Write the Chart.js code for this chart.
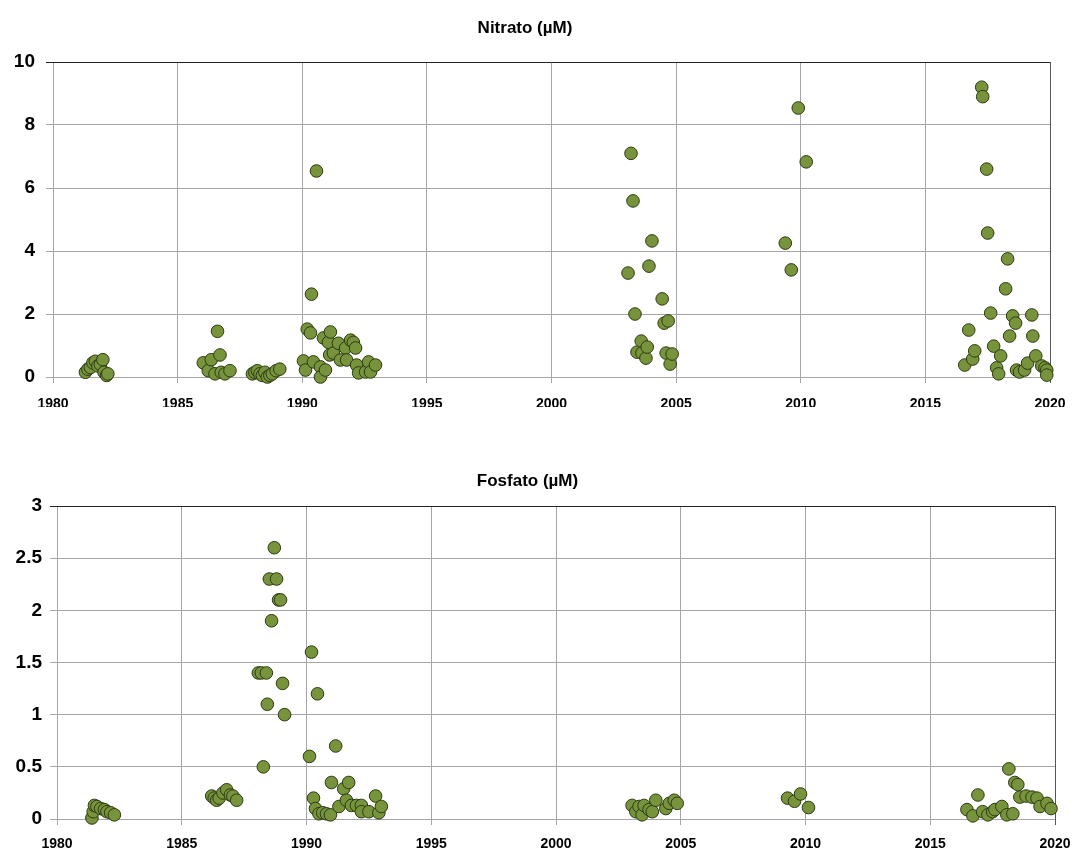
<!DOCTYPE html>
<html>
<head>
<meta charset="utf-8">
<script src="https://cdn.jsdelivr.net/npm/chart.js@4.4.1/dist/chart.umd.min.js"></script>
<style>
    body { margin: 0; background: #fff; }
    .box { position: absolute; left: 0; width: 1074px; }
    #boxN { top: 0; height: 420px; }
    #boxF { top: 440px; height: 414px; }
</style>
</head>
<body>
<div class="box" id="boxN"><canvas id="nitratoChart"></canvas></div>
<div class="box" id="boxF"><canvas id="fosfatoChart"></canvas></div>
<script>
// Data
const nitratoYears = [
    1981.3, 1981.4, 1981.5, 1981.6, 1981.7, 1981.8, 1981.9, 1982.0, 1982.05, 1982.15, 1982.2,
    1986.03, 1986.23, 1986.35, 1986.5, 1986.6, 1986.7, 1986.75, 1986.9, 1987.1,
    1988.0, 1988.1, 1988.2, 1988.3, 1988.4, 1988.5, 1988.6, 1988.7, 1988.8, 1988.95, 1989.1,
    1990.05, 1990.13, 1990.2, 1990.33, 1990.37, 1990.45, 1990.57, 1990.73, 1990.73, 1990.85, 1990.93,
    1991.05, 1991.1, 1991.13, 1991.25, 1991.45, 1991.53, 1991.74, 1991.78, 1991.94, 1992.05, 1992.14,
    1992.18, 1992.26, 1992.54, 1992.66, 1992.74, 1992.94,
    2003.07, 2003.19, 2003.27, 2003.35, 2003.43, 2003.6, 2003.63, 2003.79, 2003.84, 2003.91, 2004.03,
    2004.44, 2004.52, 2004.6, 2004.68, 2004.76, 2004.84,
    2009.38, 2009.62, 2009.9, 2010.22,
    2016.58, 2016.74, 2016.9, 2016.98, 2017.26, 2017.3, 2017.46, 2017.5, 2017.62, 2017.74, 2017.86,
    2017.94, 2018.02, 2018.22, 2018.3, 2018.38, 2018.5, 2018.62, 2018.66, 2018.78, 2018.98, 2019.1,
    2019.27, 2019.31, 2019.43, 2019.67, 2019.8, 2019.87, 2019.87
];
const nitratoValues = [
    0.15, 0.25, 0.3, 0.45, 0.5, 0.35, 0.4, 0.55, 0.15, 0.05, 0.1,
    0.45, 0.2, 0.55, 0.1, 1.45, 0.7, 0.15, 0.1, 0.2,
    0.1, 0.15, 0.2, 0.1, 0.05, 0.15, 0.0, 0.05, 0.1, 0.2, 0.25,
    0.51, 0.22, 1.52, 1.4, 2.63, 0.48, 6.54, 0.32, 0.0, 1.24, 0.22,
    1.1, 0.7, 1.43, 0.76, 1.07, 0.54, 0.92, 0.54, 1.17, 1.1, 0.92,
    0.38, 0.13, 0.16, 0.48, 0.16, 0.38,
    3.3, 7.1, 5.59, 2.0, 0.79, 1.14, 0.76, 0.6, 0.95, 3.52, 4.32,
    2.48, 1.71, 0.76, 1.78, 0.41, 0.73,
    4.25, 3.4, 8.54, 6.83,
    0.38, 1.49, 0.57, 0.83, 9.2, 8.9, 6.6, 4.57, 2.03, 0.98, 0.29,
    0.1, 0.67, 2.8, 3.75, 1.3, 1.94, 1.71, 0.22, 0.16, 0.22, 0.44,
    1.97, 1.3, 0.67, 0.35, 0.29, 0.22, 0.06
];

const fosfatoYears = [
    1981.4, 1981.45, 1981.5, 1981.6, 1981.75, 1981.9, 1982.0, 1982.15, 1982.3,
    1986.2, 1986.3, 1986.4, 1986.5, 1986.65, 1986.8, 1986.95, 1987.05, 1987.2,
    1988.07, 1988.19, 1988.27, 1988.39, 1988.43, 1988.51, 1988.6, 1988.71, 1988.8, 1988.88, 1988.96, 1989.04, 1989.12,
    1990.12, 1990.2, 1990.28, 1990.36, 1990.44, 1990.5, 1990.65, 1990.8, 1990.96, 1991.0, 1991.17, 1991.3,
    1991.49, 1991.6, 1991.69, 1991.8, 1992.0, 1992.2, 1992.2, 1992.5, 1992.77, 1992.9, 1993.0,
    2003.05, 2003.2, 2003.33, 2003.45, 2003.53, 2003.73, 2003.86, 2004.0, 2004.4, 2004.54, 2004.74, 2004.86,
    2009.28, 2009.56, 2009.8, 2010.12,
    2016.47, 2016.71, 2016.91, 2017.1, 2017.31, 2017.5, 2017.59, 2017.87, 2018.07, 2018.15, 2018.31,
    2018.39, 2018.51, 2018.59, 2018.84, 2019.08, 2019.28, 2019.4, 2019.68, 2019.84
];
const fosfatoValues = [
    0.01, 0.07, 0.13, 0.12, 0.1, 0.09, 0.07, 0.06, 0.04,
    0.22, 0.2, 0.18, 0.2, 0.25, 0.28, 0.23, 0.22, 0.18,
    1.4, 1.4, 0.5, 1.4, 1.1, 2.3, 1.9, 2.6, 2.3, 2.1, 2.1, 1.3, 1.0,
    0.6, 1.6, 0.2, 0.1, 1.2, 0.05, 0.06, 0.05, 0.04, 0.35, 0.7, 0.12,
    0.29, 0.18, 0.35, 0.13, 0.13, 0.13, 0.07, 0.07, 0.22, 0.06, 0.12,
    0.13, 0.07, 0.12, 0.04, 0.13, 0.09, 0.07, 0.18, 0.1, 0.15, 0.18, 0.15,
    0.2, 0.17, 0.24, 0.11,
    0.09, 0.03, 0.23, 0.07, 0.04, 0.07, 0.09, 0.12, 0.04, 0.48, 0.05,
    0.35, 0.33, 0.21, 0.22, 0.21, 0.2, 0.12, 0.15, 0.1
];

const yearTicks = [1980, 1985, 1990, 1995, 2000, 2005, 2010, 2015, 2020];
const nitratoTicks = [0, 2, 4, 6, 8, 10];
const fosfatoTicks = [0, 0.5, 1, 1.5, 2, 2.5, 3];

const pointFill = '#77933C';
const pointEdge = '#2c3b12';
const gridGray = '#a6a6a6';
const labelFont = "'Liberation Sans Narrow', 'Liberation Sans', Arial, sans-serif";

const toPoints = (xs, ys) => xs.map((x, i) => ({ x: x, y: ys[i] }));

const makeChart = (canvasId, opts) => {
    const ctx = document.getElementById(canvasId).getContext('2d');
    return new Chart(ctx, {
        type: 'scatter',
        data: {
            datasets: [{
                data: toPoints(opts.xs, opts.ys),
                backgroundColor: pointFill,
                borderColor: pointEdge,
                borderWidth: 1,
                pointRadius: 6.3,
                pointHoverRadius: 6.3,
                clip: false
            }]
        },
        options: {
            responsive: true,
            maintainAspectRatio: false,
            animation: false,
            layout: { padding: { left: 0, right: opts.right, top: 0, bottom: opts.bottom } },
            plugins: {
                legend: { display: false },
                tooltip: { enabled: false },
                title: {
                    display: true,
                    text: opts.title,
                    color: '#000',
                    font: { family: labelFont, size: 17, weight: 'bold' },
                    padding: { top: opts.titleTop, bottom: opts.titleBottom }
                }
            },
            scales: {
                x: {
                    type: 'linear',
                    min: 1980,
                    max: 2020,
                    afterBuildTicks: (scale) => {
                        scale.ticks = yearTicks.map(v => ({ value: v }));
                    },
                    afterFit: (scale) => {
                        scale.height = 30;
                        scale.paddingLeft = 0;
                        scale.paddingRight = 0;
                    },
                    grid: {
                        color: (c) => c.tick && c.tick.value === 2020 ? '#555' : gridGray,
                        lineWidth: 1,
                        tickLength: 6
                    },
                    border: { display: false },
                    ticks: {
                        color: '#000',
                        padding: opts.xPad,
                        maxRotation: 0,
                        font: { family: labelFont, size: 14, weight: 'bold' },
                        callback: (v) => String(v)
                    }
                },
                y: {
                    min: 0,
                    max: opts.yMax,
                    afterBuildTicks: (scale) => {
                        scale.ticks = opts.yTicks.map(v => ({ value: v }));
                    },
                    afterFit: (scale) => {
                        scale.width = opts.left;
                        scale.paddingTop = 0;
                        scale.paddingBottom = 0;
                    },
                    grid: {
                        color: (c) => c.tick && c.tick.value === opts.yMax ? '#222' : gridGray,
                        lineWidth: 1,
                        tickLength: 7
                    },
                    border: { display: false },
                    ticks: {
                        color: '#000',
                        padding: opts.yPad,
                        font: { family: labelFont, size: 19, weight: 'bold' },
                        callback: (v) => String(v)
                    }
                }
            }
        }
    });
};

makeChart('nitratoChart', {
    xs: nitratoYears, ys: nitratoValues,
    title: 'Nitrato (µM)',
    yMax: 10, yTicks: nitratoTicks,
    left: 53, right: 24, bottom: 13,
    titleTop: 18, titleBottom: 23.6,
    xPad: 13, yPad: 11
});

makeChart('fosfatoChart', {
    xs: fosfatoYears, ys: fosfatoValues,
    title: 'Fosfato (µM)',
    yMax: 3, yTicks: fosfatoTicks,
    left: 57, right: 19, bottom: 5,
    titleTop: 31, titleBottom: 14.6,
    xPad: 11, yPad: 8
});
</script>
</body>
</html>
